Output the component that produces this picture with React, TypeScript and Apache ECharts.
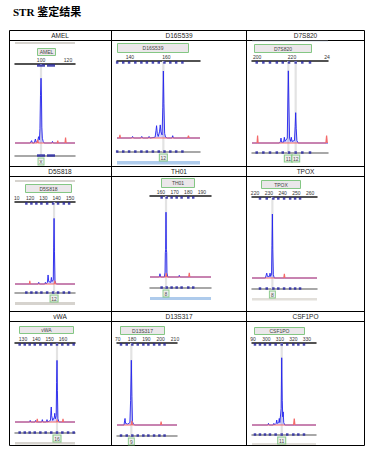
import React, { useEffect, useRef } from "react";
import * as echarts from "echarts";

// ---------------- data ----------------
const pageTitle = "STR 鉴定结果";
const loci = ["AMEL", "D16S539", "D7S820", "D5S818", "TH01", "TPOX", "vWA", "D13S317", "CSF1PO"];

// size scale (bp) shown in each panel
const scaleMin = [80.7, 133.0, 197.1, 108.7, 152, 217.8, 124, 169.5, 289.3];
const scaleMax = [125.2, 178.3, 240.6, 153.7, 196.6, 265, 169, 211.4, 336.7];

// tick values and the (partly clipped) tick texts visible in the picture
const tickValues = [
  [100, 120],
  [140, 160],
  [200, 220, 240],
  [110, 120, 130, 140, 150],
  [160, 170, 180, 190],
  [220, 230, 240, 250, 260],
  [130, 140, 150, 160],
  [170, 180, 190, 200, 210],
  [290, 300, 310, 320, 330],
];
const tickTexts = [
  ["100", "120"],
  ["140", "160"],
  ["200", "220", "24"],
  ["10", "120", "130", "140", "150"],
  ["160", "170", "180", "190"],
  ["220", "230", "240", "250", "260"],
  ["130", "140", "150", "160"],
  ["70", "180", "190", "200", "210"],
  ["90", "300", "310", "320", "330"],
];

// allele calls (size in bp, call text)
const alleleSizes = [[100], [158.3], [217.9, 222.1], [138], [163.7], [232.6], [155.5], [179.5], [311.3]];
const alleleCalls = [["X"], ["12"], ["11", "12"], ["12"], ["8"], ["8"], ["16"], ["9"], ["11"]];

// bin markers (bp)
const binSizes = [
  [100, 107.4],
  [133.1, 136.4, 139.6, 143, 146.3, 149.3, 152.6, 155.8, 158.9, 162.1, 165.3, 168.7],
  [199.8, 203.6, 207.4, 211.3, 214.7, 218.3, 222.1, 225.9, 230.3],
  [117.2, 121, 124.7, 128.5, 132.8, 137.3, 141, 145.3, 149.3],
  [160.5, 164.2, 167.8, 171.5, 175.1, 180, 183.6],
  [223.6, 228.5, 233.3, 236.9, 241.1, 245.5, 249.1, 252.7],
  [127.5, 131.3, 135, 138.8, 143, 147, 151.2, 155.5, 159.5, 163.8, 168],
  [172.3, 176.3, 180.2, 184, 187.9, 191.4, 195.4, 199.1, 202.7],
  [291.5, 295.2, 298.9, 302.6, 306.8, 311.3, 315.4, 319.9, 323.6, 327.8],
];

// blue (sample) traces: [bp, relative height %]
const amelBlue = [[80.7,0],[92,0],[93,3],[93.6,0],[95,0],[95.8,5],[96.4,1],[97.5,2],[98.2,8],[98.8,4],[99.2,18],[99.6,60],[100,82],[100.3,62],[100.6,20],[101,6],[101.6,2],[102.3,0],[108,0],[108.5,2],[109,0],[125.2,0]];
const d16Blue = [[133,0],[141,0],[141.5,2],[142,0],[146,0],[146.5,2],[147,0],[150,0],[150.5,2],[151,0],[153.8,1],[154.3,10],[154.6,16],[155,6],[155.5,2],[156.2,8],[156.6,17],[157,8],[157.6,4],[158,40],[158.3,87],[158.6,45],[159,6],[159.5,1],[160.5,0],[163,0],[163.4,3],[163.8,0],[178.3,0]];
const d7Blue = [[197.1,0],[212.8,0],[213.4,2],[213.7,6],[214,1],[215.2,1],[215.6,7],[216,2],[217.3,6],[217.6,50],[217.9,88],[218.2,50],[218.6,6],[219.2,2],[219.6,7],[220,2],[221.4,3],[221.8,20],[222.1,37],[222.4,18],[222.8,3],[223.5,0],[240.6,0]];
const d5Blue = [[108.7,0],[126,0],[126.5,2],[127,0],[131,0],[131.5,2],[132,0],[133,2],[133.5,11],[134,3],[135.5,2],[136,8],[136.5,3],[137.4,5],[137.7,45],[138,80],[138.3,40],[138.7,4],[139.3,1],[140,0],[153.7,0]];
const th01Blue = [[152,0],[158.8,0],[159.3,4],[159.8,0],[162.5,0],[163,6],[163.2,30],[163.45,34],[163.7,80],[163.95,34],[164.2,30],[164.4,5],[165,0],[173,0],[173.4,2],[173.8,0],[196.6,0]];
const tpoxBlue = [[217.8,0],[227.5,0],[228,3],[228.5,6],[229,2],[230.5,2],[230.9,6],[231.3,2],[232,5],[232.3,40],[232.6,79],[232.9,35],[233.3,4],[234,0],[265,0]];
const vwaBlue = [[124,0],[135,0],[135.4,2],[135.8,0],[139,0],[139.5,2],[140,0],[144,0],[144.5,3],[145,0],[147.5,0],[148,3],[148.5,0],[150.6,2],[151,15],[151.2,19],[151.5,8],[152.3,2],[153.5,6],[153.8,11],[154.2,4],[154.9,8],[155.2,50],[155.5,78],[155.8,40],[156.2,4],[157,0],[169,0]];
const d13Blue = [[169.5,0],[174.4,0],[174.8,5],[175.1,8],[175.5,2],[177,1],[178.5,3],[179,30],[179.5,79],[179.9,35],[180.3,4],[181,1],[182,0],[211.4,0]];
const csfBlue = [[289.3,0],[301,0],[301.5,2],[302,0],[305,0],[305.5,2],[306,0],[307.2,2],[307.6,6],[308,2],[309.1,3],[309.5,8],[309.9,3],[310.9,20],[311.3,82],[311.7,30],[312.1,10],[312.4,16],[312.8,3],[313.6,0],[336.7,0]];

// red (size standard) traces
const amelRed = [[80.7,0],[97,0],[97.5,4],[98,0],[112,0],[112.4,3],[112.8,0],[117.8,0],[118.2,7],[118.6,0],[125.2,0]];
const d16Red = [[133,0],[134.3,0],[134.6,4],[134.9,0],[171.6,0],[172,3],[172.4,0],[178.3,0]];
const d7Red = [[197.1,0],[200,0],[200.3,9],[200.6,0],[239.4,0],[239.8,9],[240.2,0],[240.6,0]];
const d5Red = [[108.7,0],[119.5,0],[119.8,4],[120.1,0],[138.2,0],[138.6,4],[139,0],[153.7,0]];
const th01Red = [[152,0],[163.6,0],[163.9,5],[164.2,0],[180.3,0],[180.7,5],[181.1,0],[196.6,0]];
const tpoxRed = [[217.8,0],[240.9,0],[241.3,5],[241.7,0],[265,0]];
const vwaRed = [[124,0],[140.3,0],[140.7,4],[141.1,0],[155.3,0],[155.6,3],[155.9,0],[159.6,0],[160,4],[160.4,0],[169,0]];
const d13Red = [[169.5,0],[179.5,0],[179.9,5],[180.3,0],[199.9,0],[200.3,4],[200.7,0],[211.4,0]];
const csfRed = [[289.3,0],[320.1,0],[320.6,8],[321.1,0],[336.7,0]];

const blueTraces = [amelBlue, d16Blue, d7Blue, d5Blue, th01Blue, tpoxBlue, vwaBlue, d13Blue, csfBlue];
const redTraces = [amelRed, d16Red, d7Red, d5Red, th01Red, tpoxRed, vwaRed, d13Red, csfRed];

// ---------------- layout (pixels) ----------------
const panelBox = [
  { l: 15, r: 75, top: 64, base: 143, bot: 156 },
  { l: 117, r: 200, top: 61, base: 138, bot: 152 },
  { l: 252, r: 328, top: 61, base: 143, bot: 153 },
  { l: 15, r: 75, top: 202, base: 284, bot: 293 },
  { l: 150, r: 211, top: 196, base: 277, bot: 288 },
  { l: 252, r: 317, top: 197, base: 278, bot: 289 },
  { l: 15, r: 75, top: 343, base: 422, bot: 433 },
  { l: 117, r: 177, top: 343, base: 425, bot: 436 },
  { l: 252, r: 316, top: 343, base: 425, bot: 435 },
];
const locusLabelBox = [
  [37, 48, 18, 7], [117, 43, 71, 9], [254, 44, 57, 8],
  [25, 184, 46, 8], [161, 178, 33, 9], [261, 180, 39, 8],
  [19, 326, 54, 7], [120, 326, 44, 8], [254, 327, 50, 7],
];
const stripBars = [
  [15, 42, 60, 2, "#d6d3ce"], [15, 180, 60, 2, "#d6d3ce"], [252, 40.8, 76, 1, "#dfe6ef"],
  [117, 161, 83, 3.5, "#aecbec"], [15, 302, 60, 3, "#d6d3ce"], [150, 297, 61, 3, "#aecbec"],
  [252, 298, 65, 2.5, "#e2dfda"], [15, 442, 60, 2.5, "#d6d3ce"], [252, 443, 64, 2, "#e2dfda"],
];
const colCenters = [60, 179, 305.5];
const headerY = [35.5, 171.5, 316.5];
const hLines = [30.5, 40.5, 166.5, 176.5, 311.5, 321.5, 445.5];
const vLines = [9.5, 111.5, 246.5, 364.5];

function buildOption() {
  const grid: any[] = [];
  const xAxis: any[] = [];
  const yAxis: any[] = [];
  const series: any[] = [];
  const graphic: any[] = [];

  graphic.push({
    type: "text",
    style: {
      text: pageTitle, x: 13, y: 11.5, fill: "#000", fontSize: 11, fontWeight: "bold",
      fontFamily: "'Liberation Serif', 'Noto Sans CJK SC', serif", textVerticalAlign: "middle",
    },
  });
  hLines.forEach((y) =>
    graphic.push({ type: "line", shape: { x1: 9.5, y1: y, x2: 364.5, y2: y }, style: { stroke: "#000", lineWidth: 1 } })
  );
  vLines.forEach((x) =>
    graphic.push({ type: "line", shape: { x1: x, y1: 30.5, x2: x, y2: 445.5 }, style: { stroke: "#000", lineWidth: 1 } })
  );
  stripBars.forEach(([x, y, w, h, c]) =>
    graphic.push({ type: "rect", shape: { x, y, width: w, height: h }, style: { fill: c } })
  );

  panelBox.forEach((g, i) => {
    const k = ((g.bot - g.base) / (g.base - g.top)) * 100;
    const row = Math.floor(i / 3);
    const col = i % 3;
    graphic.push({
      type: "text",
      style: {
        text: loci[i], x: colCenters[col], y: headerY[row], fill: "#1a1a1a", fontSize: 6.5,
        fontFamily: "'Liberation Sans', Arial, sans-serif", textAlign: "center", textVerticalAlign: "middle",
      },
    });
    const [bx, by, bw, bh] = locusLabelBox[i];
    graphic.push({
      type: "rect", shape: { x: bx + 0.5, y: by + 0.5, width: bw, height: bh },
      style: { fill: "#ebe7ea", stroke: "#84c784", lineWidth: 1 },
    });
    graphic.push({
      type: "text",
      style: {
        text: loci[i], x: bx + bw / 2 + 0.5, y: by + bh / 2 + 0.8, fill: "#444", fontSize: 5,
        fontFamily: "'Liberation Sans', Arial, sans-serif", textAlign: "center", textVerticalAlign: "middle",
      },
    });

    grid.push({ left: g.l, top: g.top, width: g.r - g.l, height: g.bot - g.top, containLabel: false, outerBoundsMode: "none" });
    const ticks = tickValues[i];
    const texts = tickTexts[i];
    xAxis.push({
      gridIndex: i, type: "value", position: "top", min: scaleMin[i], max: scaleMax[i],
      axisLine: { show: true, onZero: false, lineStyle: { color: "#1a1a1a", width: 1.5 } },
      axisTick: { show: false }, splitLine: { show: false },
      axisLabel: {
        show: true, customValues: ticks, margin: 2, fontSize: 5, color: "#333",
        fontFamily: "'Liberation Sans', Arial, sans-serif",
        formatter: (v: number) => {
          const j = ticks.indexOf(v);
          return j >= 0 ? texts[j] : "";
        },
      },
    });
    xAxis.push({
      gridIndex: i, type: "value", position: "bottom", min: scaleMin[i], max: scaleMax[i],
      axisLine: { show: true, onZero: false, lineStyle: { color: "#8c8c8c", width: 1.5 } },
      axisTick: { show: false }, splitLine: { show: false }, axisLabel: { show: false },
    });
    yAxis.push({ gridIndex: i, type: "value", min: -k, max: 100, show: false });

    const xi = 2 * i;
    alleleSizes[i].forEach((a) => {
      series.push({
        type: "line", xAxisIndex: xi, yAxisIndex: i, data: [[a, -k], [a, 100]], symbol: "none",
        lineStyle: { color: "#e3e3e3", width: 2.2 }, z: 1, silent: true,
      });
    });
    series.push({
      type: "line", xAxisIndex: xi, yAxisIndex: i, data: blueTraces[i], symbol: "none",
      lineStyle: { color: "#2323ee", width: 0.9 }, areaStyle: { color: "rgba(90,90,255,0.35)" }, z: 3, silent: true,
    });
    series.push({
      type: "line", xAxisIndex: xi, yAxisIndex: i, data: redTraces[i], symbol: "none",
      lineStyle: { color: "#f46a6a", width: 1.2 }, z: 4, silent: true,
    });
    const binSym = i === 0 ? [8, 2.5] : [2.5, 2.5];
    series.push({
      type: "scatter", xAxisIndex: xi, yAxisIndex: i, data: binSizes[i].map((b) => [b, 100]),
      symbol: "rect", symbolSize: binSym, symbolOffset: [0, 1.5], itemStyle: { color: "#1f1fa0" }, z: 5, silent: true,
    });
    series.push({
      type: "scatter", xAxisIndex: xi, yAxisIndex: i, data: binSizes[i].map((b) => [b, -k]),
      symbol: "rect", symbolSize: binSym, symbolOffset: [0, -0.5], itemStyle: { color: "#1f1fa0" }, z: 5, silent: true,
    });
    series.push({
      type: "scatter", xAxisIndex: xi, yAxisIndex: i,
      data: alleleSizes[i].map((a, j) => ({
        value: [a, -k], name: alleleCalls[i][j],
        symbolSize: [alleleCalls[i][j].length > 1 ? 8 : 6, 7],
      })),
      symbol: "rect", symbolOffset: [0, 5.5],
      itemStyle: { color: "#e9e9e9", borderColor: "#6fbf6f", borderWidth: 1 },
      label: {
        show: true, position: "inside", formatter: (p: any) => p.name, fontSize: 5, color: "#222",
        fontFamily: "'Liberation Sans', Arial, sans-serif",
      },
      z: 6, silent: true,
    });
  });

  return { animation: false, backgroundColor: "#fff", grid, xAxis, yAxis, series, graphic: { elements: graphic } };
}

export default function App() {
  const ref = useRef<HTMLDivElement>(null);
  useEffect(() => {
    if (!ref.current) return;
    const chart = echarts.init(ref.current, undefined, { renderer: "svg" });
    chart.setOption(buildOption() as any);
    return () => chart.dispose();
  }, []);
  return (
    <div
      ref={ref}
      style={{ position: "fixed", left: 0, top: 0, width: 367, height: 450, background: "#fff" }}
    />
  );
}
